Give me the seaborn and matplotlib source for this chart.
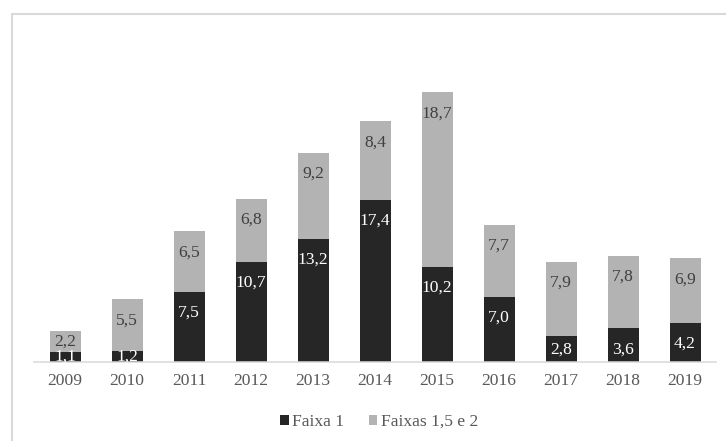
import matplotlib
matplotlib.use("Agg")
import matplotlib.pyplot as plt
import matplotlib.patches as mpatches
from matplotlib.patches import Patch
import pandas as pd
import seaborn as sns

anos = ["2009", "2010", "2011", "2012", "2013", "2014", "2015", "2016", "2017", "2018", "2019"]
faixa_1 = [1.1, 1.2, 7.5, 10.7, 13.2, 17.4, 10.2, 7.0, 2.8, 3.6, 4.2]
faixas_15_2 = [2.2, 5.5, 6.5, 6.8, 9.2, 8.4, 18.7, 7.7, 7.9, 7.8, 6.9]
series = ["Faixa 1", "Faixas 1,5 e 2"]

COR_ESCURA = "#262626"
COR_CLARA = "#b3b3b3"
COR_TEXTO = "#595959"
COR_LINHA = "#d9d9d9"

sns.set_theme(style="white")
plt.rcParams["font.family"] = ["Liberation Serif", "DejaVu Serif"]

df = pd.DataFrame({"ano": anos, "f1": faixa_1, "f2": faixas_15_2})
df["total"] = df["f1"] + df["f2"]

W, H, DPI = 726, 441, 100
fig = plt.figure(figsize=(W / DPI, H / DPI), dpi=DPI)
ax = fig.add_axes([34 / W, 1 - 362 / H, (716 - 34) / W, (362 - 40) / H])

# stacked bars: full height in light gray, Faixa 1 drawn over it in dark
sns.barplot(data=df, x="ano", y="total", color=COR_CLARA, width=0.5,
            saturation=1, linewidth=0, edgecolor="none", ax=ax, zorder=2)
sns.barplot(data=df, x="ano", y="f1", color=COR_ESCURA, width=0.5,
            saturation=1, linewidth=0, edgecolor="none", ax=ax, zorder=3)

ax.set_xlim(-0.5, len(anos) - 0.5)
ax.set_ylim(0, 34.5)
ax.set_xlabel("")
ax.set_ylabel("")
ax.set_yticks([])
for lado in ["top", "right", "left"]:
    ax.spines[lado].set_visible(False)
ax.spines["bottom"].set_color(COR_LINHA)
ax.spines["bottom"].set_linewidth(1.1)
ax.spines["bottom"].set_zorder(4)
ax.tick_params(axis="x", length=0, pad=8, labelsize=12.6, labelcolor=COR_TEXTO)

# data labels near the inner top of each segment
fs = 12.6
ppu = ax.transData.transform((0, 1))[1] - ax.transData.transform((0, 0))[1]


def rotulo(x, base, valor, cor):
    topo = base + valor
    h_px = valor * ppu
    desloc = min(21.0, max(h_px / 2, h_px - 12))
    y = topo - desloc / ppu
    ax.text(x, y, f"{valor:.1f}".replace(".", ","), ha="center", va="center",
            fontsize=fs, color=cor, zorder=5)


for i, (a, b) in enumerate(zip(faixa_1, faixas_15_2)):
    rotulo(i, 0, a, "white")
    rotulo(i, a, b, "#404040")

# legend below the axis
handles = [Patch(facecolor=COR_ESCURA, edgecolor="none", label=series[0]),
           Patch(facecolor=COR_CLARA, edgecolor="none", label=series[1])]
fig.legend(handles=handles, loc="center", bbox_to_anchor=(379 / W, 1 - 422 / H),
           ncol=2, frameon=False, fontsize=fs, handlelength=0.5, handleheight=0.5,
           handletextpad=0.2, columnspacing=1.4, labelcolor=COR_TEXTO)

# chart area border
borda = mpatches.Rectangle((12 / W, -0.1), 1.2, 1 - 14 / H + 0.1,
                           transform=fig.transFigure, fill=False,
                           edgecolor=COR_LINHA, linewidth=1.5)
fig.patches.append(borda)

fig.savefig("out.png", dpi=DPI)
